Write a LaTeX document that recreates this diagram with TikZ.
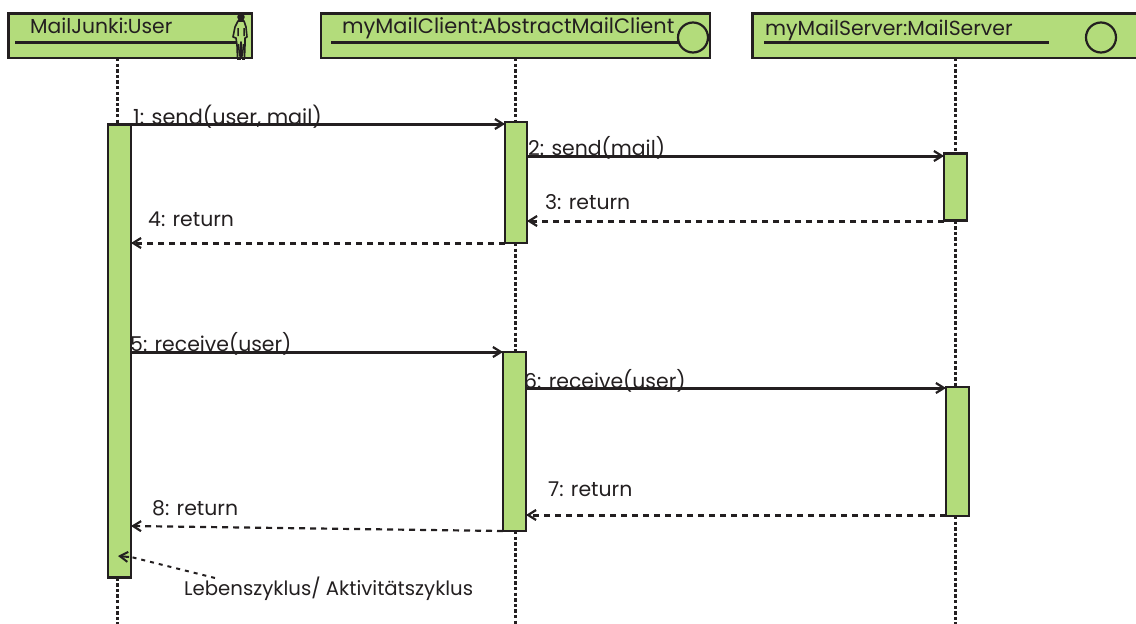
\documentclass[tikz,border=0pt]{standalone}
\usepackage{fontspec}
\setmainfont{Poppins}
\usetikzlibrary{arrows.meta}
\definecolor{umlgreen}{HTML}{B3DC7B}
\definecolor{umlink}{HTML}{231F20}
\tikzset{
  x=1pt,y=-1pt,
  headbox/.style={draw=umlink,line width=2.4pt,fill=umlgreen,inner sep=0pt,outer sep=0pt,minimum height=44.5pt,anchor=north west},
  actbox/.style={draw=umlink,line width=2.4pt,fill=umlgreen,inner sep=0pt,outer sep=0pt,anchor=north west},
  lifeline/.style={draw=umlink,line width=3pt,dash pattern=on 3.4pt off 2.2pt},
  msgline/.style={draw=umlink,line width=3pt,-{Straight Barb[length=8pt,width=10pt,line width=2.2pt]}},
  retline/.style={draw=umlink,line width=3pt,dash pattern=on 6pt off 5pt,-{Straight Barb[length=8pt,width=10pt,line width=2.2pt]}},
  lbl/.style={inner sep=0pt,anchor=base west,text=umlink,font=\fontsize{20.4}{24}\selectfont},
  uline/.style={draw=umlink,line width=3pt},
  iconring/.style={draw=umlink,line width=2.2pt,fill=umlgreen,circle,inner sep=0pt,minimum size=30pt},
}
\begin{document}
\begin{tikzpicture}
\useasboundingbox (0,0) rectangle (1136,624);
% lifeline ends
\coordinate (endA) at (117,624);
\coordinate (endB) at (515,624);
\coordinate (endC) at (955,624);
% head boxes
\node[headbox,minimum width=243.5pt] (ha) at (8.3,13.5) {};
\node[headbox,minimum width=389pt] (hb) at (321,13.5) {};
\node[headbox,minimum width=385pt] (hc) at (752.5,13.5) {};
% activation boxes
\node[actbox,minimum width=23pt,minimum height=453pt] (a1) at (108,124.5) {};
\node[actbox,minimum width=22pt,minimum height=121pt] (b1) at (505,122) {};
\node[actbox,minimum width=23pt,minimum height=67pt] (c1) at (944,153.5) {};
\node[actbox,minimum width=23pt,minimum height=179pt] (b2) at (503,352) {};
\node[actbox,minimum width=23pt,minimum height=129pt] (c2) at (946,387) {};
% lifelines
\draw[lifeline] (endA |- ha.south) -- (endA |- a1.north);
\draw[lifeline] (endA |- a1.south) -- (endA);
\draw[lifeline] (endB |- hb.south) -- (endB |- b1.north);
\draw[lifeline] (endB |- b1.south) -- (endB |- b2.north);
\draw[lifeline] (endB |- b2.south) -- (endB);
\draw[lifeline] (endC |- hc.south) -- (endC |- c1.north);
\draw[lifeline] (endC |- c1.south) -- (endC |- c2.north);
\draw[lifeline] (endC |- c2.south) -- (endC);
% head labels
\node[lbl,font=\fontsize{20.3}{24}\selectfont] (ta) at (30,33) {MailJunki:User};
\node[lbl,font=\fontsize{20.9}{24}\selectfont] (tb) at (342,33) {myMailClient:AbstractMailClient};
\node[lbl,font=\fontsize{20.4}{24}\selectfont] (tc) at (765,35) {myMailServer:MailServer};
\draw[uline] (15,42.5) -- (236,42.5);
\draw[uline] (331,42.5) -- (680,42.5);
\draw[uline] (764,42.5) -- (1049,42.5);
\node[iconring] (rb) at (693,37.5) {};
\node[iconring] (rc) at (1101,37.5) {};
% actor figure
\fill[umlink] (241,17) circle (3.8pt);
\draw[draw=umlink,line width=1.6pt,fill=umlgreen,line join=round]
  (238,21) -- (244,21) -- (246,27) -- (247,37) -- (245,38) -- (245,45) -- (244.5,58) -- (242,58) -- (241,42)
  -- (240,58) -- (237.5,58) -- (237,45) -- (236,38) -- (233,37) -- (235,27) -- cycle;
\draw[umlink,line width=1.8pt] (237,59) -- (240.5,59) (241.5,59) -- (245,59);
\draw[umlink,line width=1.5pt] (238,28) -- (238,36) (244,28) -- (244,36) (238.5,44) -- (239.5,56) (243.5,44) -- (242.5,56);
% message rows
\coordinate (m1) at (0,124);
\coordinate (m2) at (0,156);
\coordinate (m3) at (0,221);
\coordinate (m4) at (0,243);
\coordinate (m5) at (0,352);
\coordinate (m6) at (0,388);
\coordinate (m7) at (0,515);
\draw[msgline] (a1.east |- m1) -- (b1.west |- m1);
\draw[msgline] (b1.east |- m2) -- (c1.west |- m2);
\draw[retline] (c1.west |- m3) -- (b1.east |- m3);
\draw[retline] (b1.west |- m4) -- (a1.east |- m4);
\draw[msgline] (a1.east |- m5) -- (b2.west |- m5);
\draw[msgline] (b2.east |- m6) -- (c2.west |- m6);
\draw[retline] (c2.west |- m7) -- (b2.east |- m7);
\coordinate (m8a) at (0,531);
\coordinate (m8b) at (0,526);
\draw[retline,line width=2.2pt] (b2.west |- m8a) -- (a1.east |- m8b);
% labels
\node[lbl,font=\fontsize{20.8}{24}\selectfont] (l1) at (133,124.5) {1: send(user, mail)};
\node[lbl] (l2) at (528,155) {2: send(mail)};
\node[lbl] (l3) at (545,209) {3: return};
\node[lbl] (l4) at (148,226) {4: return};
\node[lbl] (l5) at (130,351) {5: receive(user)};
\node[lbl] (l6) at (524,388) {6: receive(user)};
\node[lbl] (l7) at (548,496) {7: return};
\node[lbl] (l8) at (152,515) {8: return};
\node[lbl,font=\fontsize{19.7}{24}\selectfont] (l9) at (184,595) {Lebenszyklus/ Aktivitätszyklus};
% note pointer
\coordinate (p1) at (215,578);
\coordinate (p2) at (129,557);
\coordinate (p3) at (118,556);
\draw[draw=umlink,line width=2pt,dash pattern=on 4pt off 5pt] (p1) -- (a1.east |- p2);
\draw[draw=umlink,line width=2pt,-{Straight Barb[length=8pt,width=10pt,line width=2pt]}] (p2) -- (p3);
\end{tikzpicture}
\end{document}
